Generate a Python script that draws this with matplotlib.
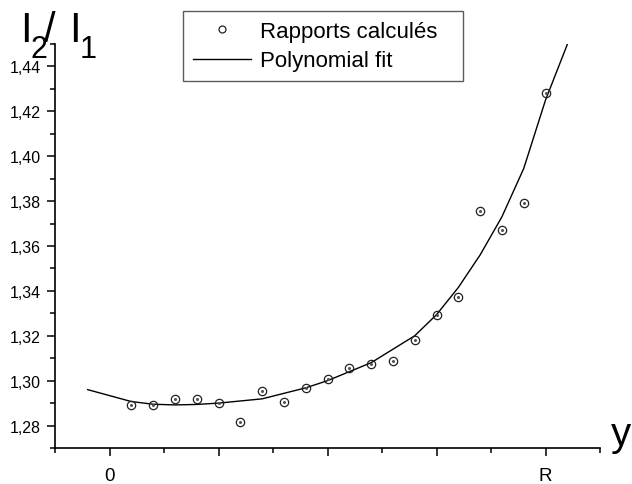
import matplotlib
matplotlib.use('Agg')
import matplotlib.pyplot as plt
from matplotlib.ticker import MultipleLocator, FuncFormatter
from matplotlib.lines import Line2D

# measured ratios (x in units of R/4)
pos = [0.2, 0.4, 0.6, 0.8, 1.0, 1.2, 1.4, 1.6, 1.8, 2.0,
       2.2, 2.4, 2.6, 2.8, 3.0, 3.2, 3.4, 3.6, 3.8, 4.0]
ratio = [1.2893, 1.2893, 1.2920, 1.2920, 1.2902, 1.2818, 1.2955, 1.2906, 1.2968, 1.3008,
         1.3055, 1.3073, 1.3086, 1.3182, 1.3293, 1.3373, 1.3755, 1.3670, 1.3790, 1.4283]

# polynomial fit curve as drawn
fit_x = [-0.2, 0.2, 0.4, 0.6, 0.8, 1.0, 1.4, 1.8, 2.0, 2.4, 2.8, 3.0,
         3.2, 3.4, 3.6, 3.8, 4.0, 4.2]
fit_y = [1.2960, 1.2907, 1.2895, 1.2892, 1.2894, 1.2900, 1.2919, 1.2968, 1.3000, 1.3080, 1.3200, 1.3294,
         1.3415, 1.3560, 1.3730, 1.3945, 1.4250, 1.4498]

xtick_pos = [0, 1, 2, 3, 4]
xtick_labels = ['0', '', '', '', 'R']

plt.rcParams['font.family'] = ['Liberation Sans', 'DejaVu Sans']

fig = plt.figure(figsize=(6.32, 4.85), dpi=100)
ax = fig.add_axes([55 / 632, 1 - 449 / 485, 545 / 632, 404 / 485])

ax.plot(fit_x, fit_y, '-', color='black', lw=1.0)
ax.plot(pos, ratio, 'o', ms=6, mfc='none', mec='#222222', mew=0.9)
ax.plot(pos, ratio, 'o', ms=1.2, color='#555555')

ax.set_xlim(-0.5, 4.5)
ax.set_ylim(1.27, 1.45)

for s in ['top', 'right']:
    ax.spines[s].set_visible(False)
for s in ['left', 'bottom']:
    ax.spines[s].set_linewidth(1.2)

ax.set_xticks(xtick_pos)
ax.set_xticklabels(xtick_labels)
ax.xaxis.set_minor_locator(MultipleLocator(0.5))
ax.yaxis.set_major_locator(MultipleLocator(0.02))
ax.yaxis.set_minor_locator(MultipleLocator(0.01))
ax.yaxis.set_major_formatter(FuncFormatter(lambda v, p: ('%.2f' % v).replace('.', ',') if v < 1.445 else ''))

ax.tick_params(axis='both', which='major', direction='out', length=6, width=1.1)
ax.tick_params(axis='both', which='minor', direction='out', length=3.5, width=1.1)
ax.tick_params(axis='y', labelsize=11.5, pad=4)
ax.tick_params(axis='x', labelsize=13.5, pad=8)

# axis labels
fig.text(20 / 632, 1 - 42 / 485, 'I', fontsize=30, va='baseline', ha='left')
fig.text(30 / 632, 1 - 58 / 485, '2', fontsize=22, va='baseline', ha='left')
fig.text(44 / 632, 1 - 42 / 485, '/', fontsize=30, va='baseline', ha='left')
fig.text(69 / 632, 1 - 42 / 485, 'I', fontsize=30, va='baseline', ha='left')
fig.text(80 / 632, 1 - 58 / 485, '1', fontsize=22, va='baseline', ha='left')
fig.text(611 / 632, 1 - 446 / 485, 'y', fontsize=29, va='baseline', ha='left')

handles = [Line2D([], [], marker='o', ls='none', ms=5, mfc='none', mec='#222222', mew=0.9),
           Line2D([], [], color='black', lw=1.0)]
leg = fig.legend(handles, ['Rapports calculés', 'Polynomial fit'],
                 loc='upper left', bbox_to_anchor=(183 / 632, 1 - 12 / 485, 280 / 632, 0.0),
                 mode='expand', fontsize=16, frameon=True, fancybox=False,
                 borderpad=0.45, borderaxespad=0, handlelength=2.6, handletextpad=0.4,
                 labelspacing=0.38, numpoints=1)
leg.get_frame().set_edgecolor('#333333')
leg.get_frame().set_linewidth(1.0)

plt.savefig('out.png', dpi=100)
